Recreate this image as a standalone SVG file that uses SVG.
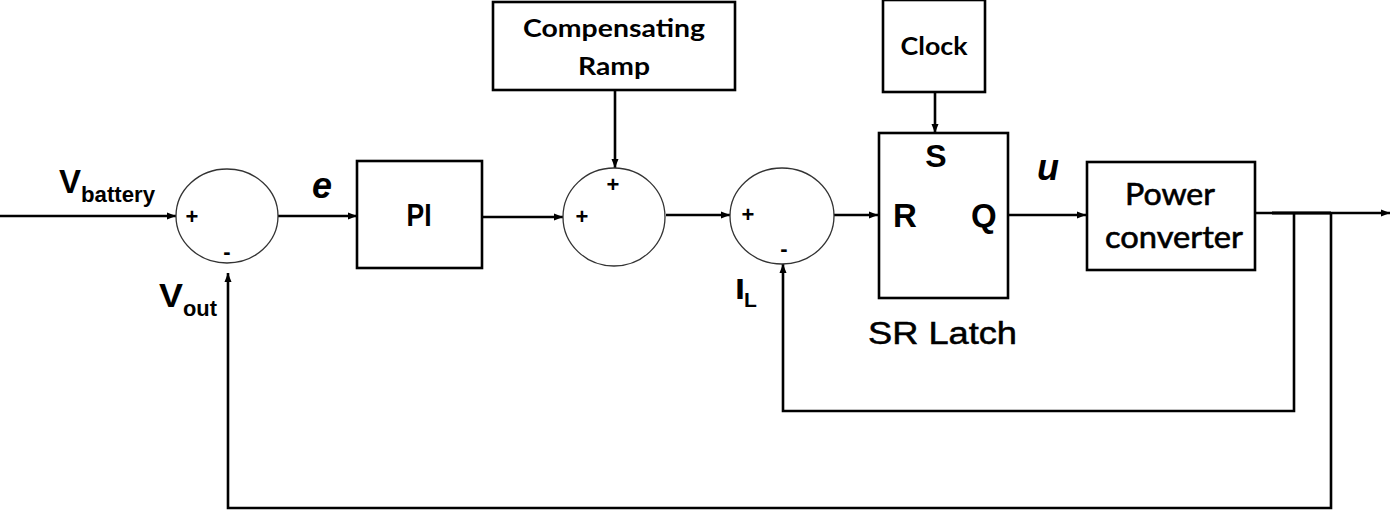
<svg xmlns="http://www.w3.org/2000/svg" width="1399" height="512" viewBox="0 0 1399 512">
<style>
.box{fill:#fff;stroke:#000;stroke-width:2.6}
.sum{fill:#fff;stroke:#333;stroke-width:1.3}
.wire{fill:none;stroke:#000;stroke-width:2.6}
.ar{font-family:"Liberation Sans",Arial,sans-serif;font-weight:bold;fill:#000}
.cal{font-family:Lato,"Open Sans",sans-serif;font-weight:bold;fill:#000}
.sign{font-family:"Liberation Sans",Arial,sans-serif;font-weight:bold;font-size:22px;text-anchor:middle;fill:#000}
</style>
<defs>
<marker id="arr" markerWidth="10" markerHeight="8" refX="9" refY="4" orient="auto" markerUnits="userSpaceOnUse">
<path d="M0,0.5 L9,4 L0,7.5 Z" fill="#000"/>
</marker>
</defs>
<rect width="1399" height="512" fill="#fff"/>
<g id="connectors">
<path class="wire" d="M0,216 H176" marker-end="url(#arr)"/>
<path class="wire" d="M278,216 H357" marker-end="url(#arr)"/>
<path class="wire" d="M482,217 H563" marker-end="url(#arr)"/>
<path class="wire" d="M615,90 V168" marker-end="url(#arr)"/>
<path class="wire" d="M666,215 H730" marker-end="url(#arr)"/>
<path class="wire" d="M834,215 H878" marker-end="url(#arr)"/>
<path class="wire" d="M935,92 V133" marker-end="url(#arr)"/>
<path class="wire" d="M1008,215 H1086" marker-end="url(#arr)"/>
<path class="wire" d="M1256,213 H1390" marker-end="url(#arr)"/>
<path class="wire" d="M1272,213 H1331" style="stroke-width:3.2"/>
<path class="wire" d="M1294,213 V411 H783 V264" marker-end="url(#arr)"/>
<path class="wire" d="M1331,213 V508 H228 V273" marker-end="url(#arr)"/>
</g>
<g id="sum1">
<ellipse class="sum" cx="227" cy="216" rx="51" ry="47"/>
<text class="sign" x="192" y="224">+</text>
<text class="sign" x="227" y="259">-</text>
</g>
<g id="sum2">
<ellipse class="sum" cx="614" cy="217" rx="51" ry="49"/>
<text class="sign" x="613" y="192">+</text>
<text class="sign" x="582" y="224">+</text>
</g>
<g id="sum3">
<ellipse class="sum" cx="782" cy="216" rx="52" ry="48"/>
<text class="sign" x="748" y="222">+</text>
<text class="sign" x="784" y="256">-</text>
</g>
<g id="pi">
<rect class="box" x="357" y="161" width="125" height="107"/>
<text class="ar" x="419" y="226" font-size="31" text-anchor="middle" textLength="25" lengthAdjust="spacingAndGlyphs">PI</text>
</g>
<g id="ramp">
<rect class="box" x="493" y="2" width="242" height="88"/>
<text class="cal" x="614" y="37" font-size="24" text-anchor="middle" textLength="182" lengthAdjust="spacingAndGlyphs">Compensating</text>
<text class="cal" x="614" y="75" font-size="24" text-anchor="middle" textLength="72" lengthAdjust="spacingAndGlyphs">Ramp</text>
</g>
<g id="clock">
<rect class="box" x="883" y="0" width="102" height="92"/>
<text class="cal" x="934" y="55" font-size="24" text-anchor="middle" textLength="67" lengthAdjust="spacingAndGlyphs">Clock</text>
</g>
<g id="latch">
<rect class="box" x="879" y="133" width="129" height="165"/>
<text class="ar" x="936" y="167" font-size="32" text-anchor="middle">S</text>
<text class="ar" x="893" y="227" font-size="33">R</text>
<text class="ar" x="971" y="227" font-size="33">Q</text>
<text x="868" y="344" font-family="Liberation Sans,Arial,sans-serif" font-size="31" stroke="#000" stroke-width="0.5" textLength="149" lengthAdjust="spacingAndGlyphs">SR Latch</text>
</g>
<g id="converter">
<rect class="box" x="1087" y="162" width="168" height="108"/>
<text x="1170" y="205" font-family="Lato,'Open Sans',sans-serif" font-size="30" stroke="#000" stroke-width="0.6" text-anchor="middle" textLength="90" lengthAdjust="spacingAndGlyphs">Power</text>
<text x="1174" y="248" font-family="Lato,'Open Sans',sans-serif" font-size="30" stroke="#000" stroke-width="0.6" text-anchor="middle" textLength="138" lengthAdjust="spacingAndGlyphs">converter</text>
</g>
<g id="labels">
<text class="ar" x="59" y="193" font-size="34" textLength="22" lengthAdjust="spacingAndGlyphs">V</text>
<text class="ar" x="81" y="202" font-size="22" textLength="74" lengthAdjust="spacingAndGlyphs">battery</text>
<text class="ar" x="159" y="307" font-size="33" textLength="24" lengthAdjust="spacingAndGlyphs">V</text>
<text class="ar" x="183" y="316" font-size="22" textLength="34" lengthAdjust="spacingAndGlyphs">out</text>
<text class="ar" x="312" y="198" font-size="36" font-style="italic">e</text>
<text class="ar" x="735" y="299" font-size="29" textLength="10" lengthAdjust="spacingAndGlyphs">I</text>
<text class="ar" x="744" y="307" font-size="21">L</text>
<text class="ar" x="1037" y="180" font-size="36" font-style="italic">u</text>
</g>
</svg>
